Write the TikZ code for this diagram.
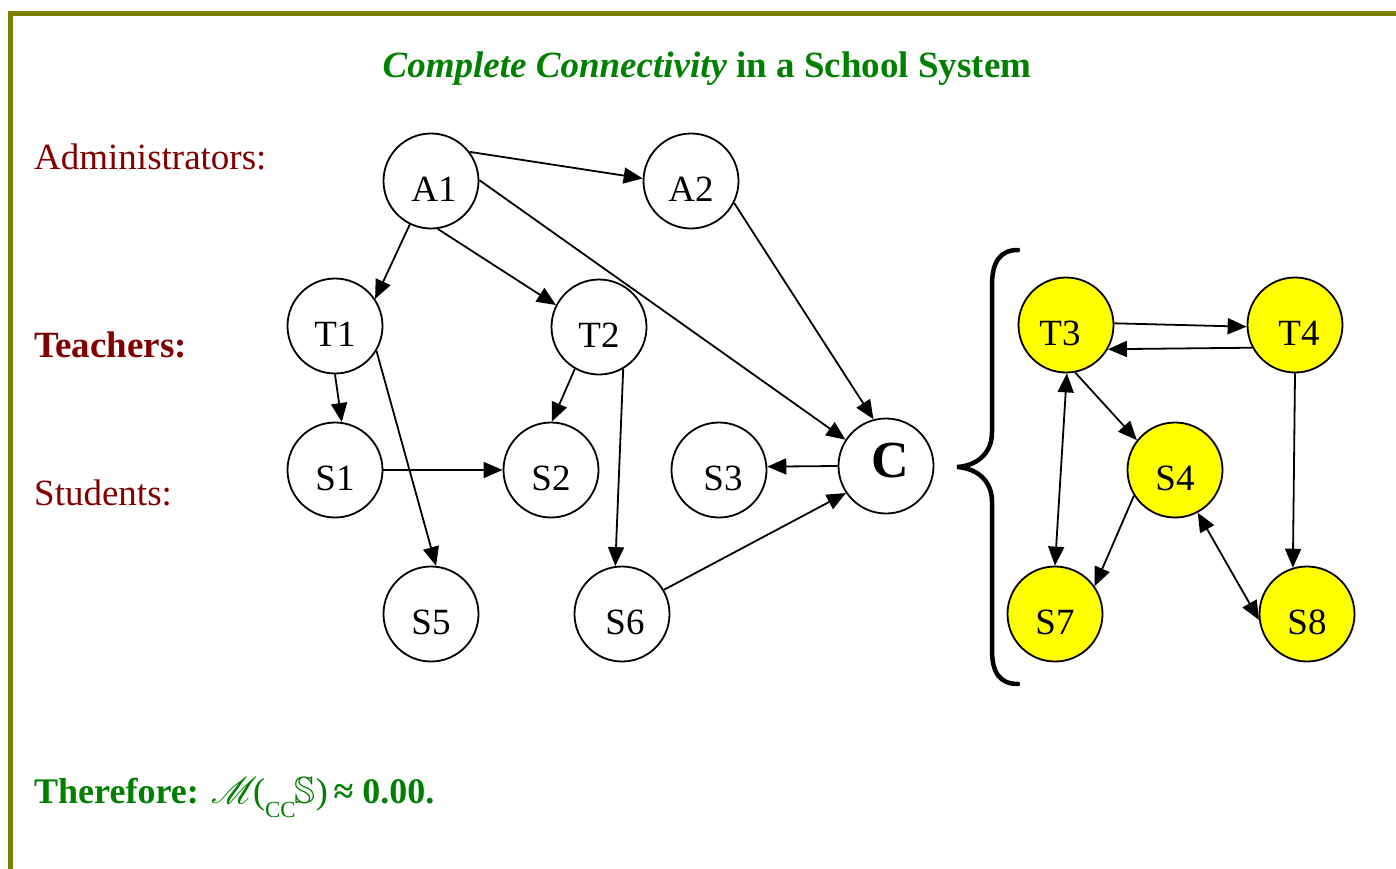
\documentclass[tikz,border=0pt]{standalone}
\usepackage{fontspec}
\setmainfont{Liberation Serif}
\usepackage{graphicx}
\usepackage{amssymb}
\usepackage{mathrsfs}
\usetikzlibrary{arrows.meta}
\definecolor{frameolive}{HTML}{808000}
\definecolor{headgreen}{HTML}{008000}
\definecolor{rolered}{HTML}{800000}
\definecolor{groupyellow}{HTML}{FFFF00}
\begin{document}
\begin{tikzpicture}[x=1pt,y=-1pt,
  vertex/.style={circle,draw=black,line width=1.8pt,minimum size=95pt,inner sep=0pt,
    font=\fontsize{37}{40}\selectfont,text height=41pt,text depth=0pt},
  hub/.style={vertex,font=\fontsize{52}{56}\selectfont\bfseries,text height=23pt},
  member/.style={vertex,fill=groupyellow},
  link/.style={line width=1.8pt,-{Triangle[length=19pt,width=16pt]}},
  mutual/.style={line width=1.8pt,{Triangle[length=19pt,width=16pt]}-{Triangle[length=19pt,width=16pt]}},
  rolelabel/.style={anchor=base west,inner sep=0pt,text=rolered,font=\fontsize{37}{40}\selectfont},
]
\useasboundingbox (0,0) rectangle (1396,869);
\fill[white] (0,0) rectangle (1396,869);

% frame
\draw[frameolive,line width=5pt] (10.8,875) -- (10.8,13.5) -- (1400,13.5);

% heading
\node[anchor=base,inner sep=0pt,text=headgreen,font=\fontsize{37}{40}\selectfont\bfseries]
  (heading) at (707,78) {\textit{Complete Connectivity} in a School System};

% role labels
\node[rolelabel] (admins) at (34,170) {Administrators:};
\node[rolelabel,font=\fontsize{37}{40}\selectfont\bfseries] (teachers) at (34,357) {Teachers:};
\node[rolelabel] (students) at (34,505) {Students:};

% school network
\node[vertex] (A1) at (431,181) {\hspace*{6pt}A1};
\node[vertex] (A2) at (691,181) {A2};
\node[vertex] (T1) at (335,326) {T1};
\node[vertex] (T2) at (599,327) {T2};
\node[vertex] (S1) at (335,470) {S1};
\node[vertex] (S2) at (551,470) {S2};
\node[vertex] (S3) at (719,470) {\hspace*{8pt}S3};
\node[hub]    (C)  at (886,466) {\hspace*{8pt}C};
\node[vertex] (S5) at (431,614) {S5};
\node[vertex] (S6) at (622,614) {\hspace*{6pt}S6};

% expanded component
\node[member] (T3) at (1066,325) {\hspace*{-12pt}T3};
\node[member] (T4) at (1295,325) {\hspace*{8pt}T4};
\node[member] (S4) at (1175,470) {S4};
\node[member] (S7) at (1055,614) {S7};
\node[member] (S8) at (1307,614) {S8};

% edges of the network
\draw[link] (A1.37) -- (A2.177);
\draw[link] (A1.1) -- (C.147);
\draw[link] (A1.-116) -- (T1.34);
\draw[link] (A1.-82) -- (T2.153);
\draw[link] (A2.-27) -- (C.105);
\draw[link] (T1.south) -- (S1.82);
\draw[link] (T1.-31) -- (S5.84);
\draw[link] (T2.-120) -- (S2.89);
\draw[link] (T2.-60) -- (S6.98);
\draw[link] (S1.east) -- (S2.west);
\draw[link] (C.west) -- (S3.4);
\draw[link] (S6.30) -- (C.-146);

% edges of the component
\draw[link] (T3.2) -- (T4.182);
\draw[link] (T4.-152) -- (T3.-30);
\draw[mutual] (T3.-89) -- (S7.north);
\draw[link] (T3.-79) -- (S4.142);
\draw[link] (S4.-148) -- (S7.35);
\draw[mutual] (S4.-62) -- (S8.-173);
\draw[link] (T4.south) -- (S8.107);

% brace
\draw[line width=4.5pt,line cap=round]
  (1018,250) .. controls (1000,250) and (992,262) .. (992,285)
  -- (992,432) .. controls (992,455) and (975,466) .. (957,467)
  .. controls (975,468) and (992,479) .. (992,502)
  -- (992,650) .. controls (992,673) and (1000,684) .. (1018,684);

% conclusion
\node[anchor=base west,inner sep=0pt,text=headgreen,font=\fontsize{36}{40}\selectfont]
  (conclusion) at (34,803)
  {\textbf{Therefore:}\hspace{12pt}\scalebox{1.5}{$\mathscr{M}$}\kern-4pt(\raisebox{-14pt}{\fontsize{23}{24}\selectfont CC}\kern-1pt\scalebox{1.05}{$\mathbb{S}$})\kern-3pt\textbf{ ≈ 0.00.}};
\end{tikzpicture}
\end{document}
